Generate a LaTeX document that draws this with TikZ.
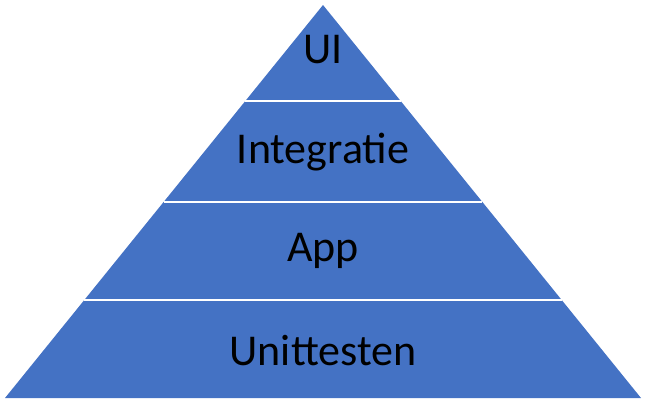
\documentclass[tikz,border=0pt]{standalone}
\usepackage{fontspec}
\setmainfont{Carlito}
\definecolor{layerblue}{HTML}{4472C4}
\tikzset{layer/.style={font=\fontsize{44}{48}\selectfont, text=black}}

\begin{document}
\begin{tikzpicture}[x=1pt, y=-1pt, thick]
	\useasboundingbox (0,0) rectangle (650,408);
	% Pyramid
	\coordinate (top) at (323,5);
	\coordinate (left) at (5,398);
	\coordinate (right) at (641,398);
	\fill[layerblue] (top) -- (right) -- (left) -- cycle;
	% Separators
	\foreach \y in {101,202,300} {
		\draw[white, line width=2.5pt] ({323-0.8092*(\y-5)},\y) -- ({323+0.8092*(\y-5)},\y);
	}
	% Labels
	\node[layer] (ui) at (323,50) {UI};
	\node[layer] (integratie) at (323,152) {Integratie};
	\node[layer] (app) at (323,251) {App};
	\node[layer] (unit) at (323,351) {Unittesten};
\end{tikzpicture}
\end{document}
